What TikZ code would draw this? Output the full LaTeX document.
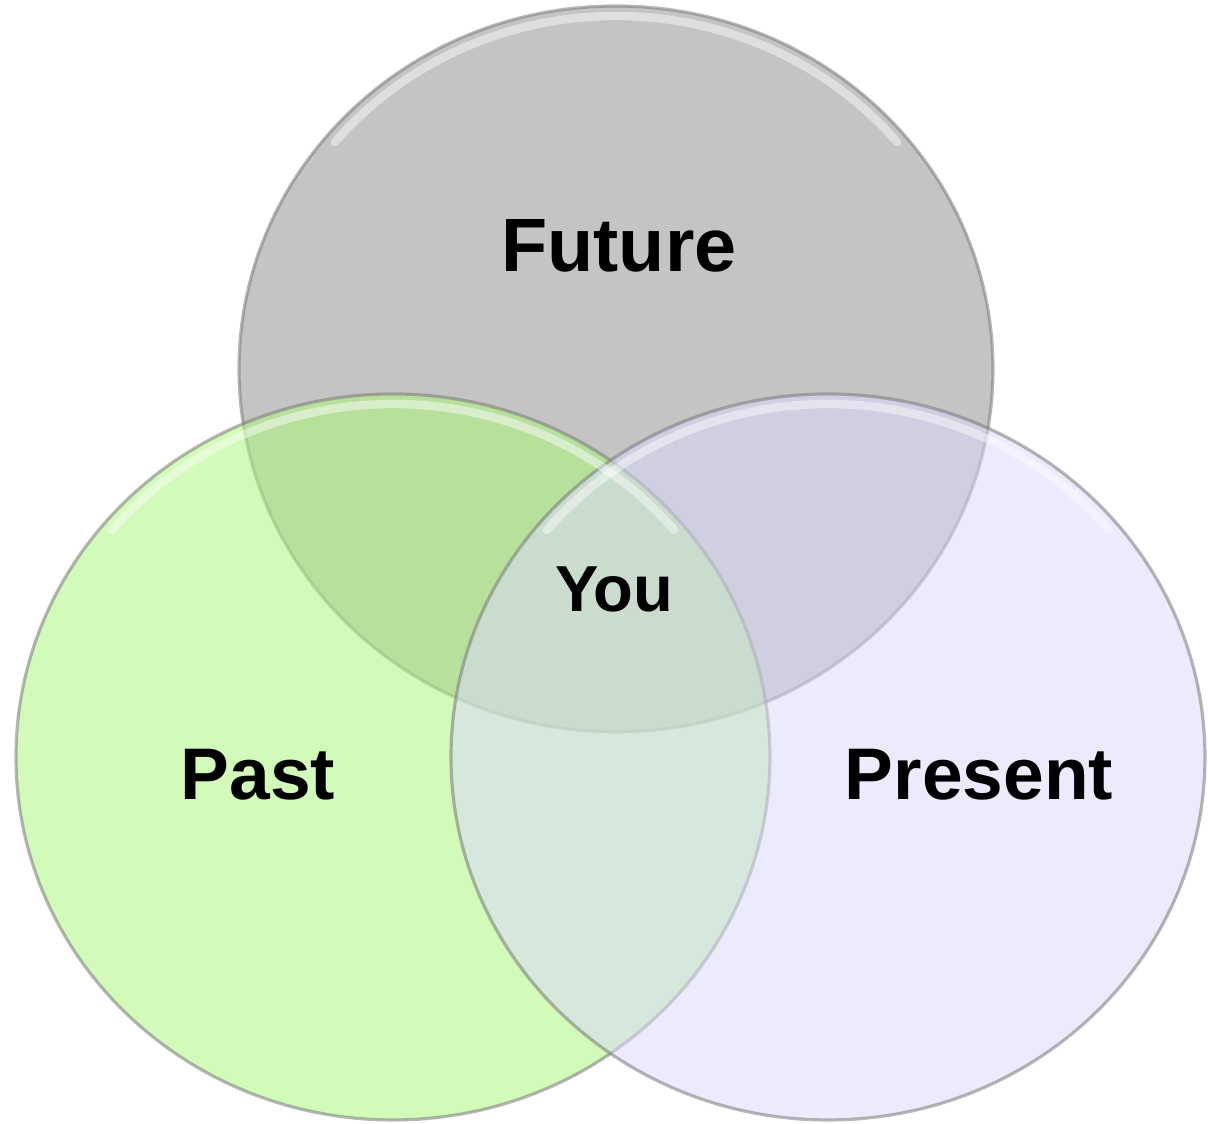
\documentclass[tikz,border=0pt]{standalone}
\usepackage{fontspec}
\setmainfont{Liberation Sans}
\usepackage{tikz}
\usetikzlibrary{positioning,shapes.geometric}
\usepackage{xcolor}
\definecolor{FutureGray}{HTML}{C4C4C4}
\definecolor{PastGreen}{HTML}{AFF680}
\definecolor{PresentLilac}{HTML}{D9D9FB}
\definecolor{RimGray}{HTML}{7A7A7A}

\begin{document}
\begin{tikzpicture}[
    circ/.style={ellipse,minimum width=7.54cm,minimum height=7.26cm,inner sep=0pt,
      draw=RimGray,draw opacity=0.55,line width=0.9pt},
    futurecirc/.style={circ,fill=FutureGray},
    pastcirc/.style={circ,fill=PastGreen,fill opacity=0.56},
    presentcirc/.style={circ,fill=PresentLilac,fill opacity=0.53},
    lbl/.style={anchor=base,font=\bfseries\fontsize{20.8}{24}\selectfont},
    hilite/.style={white,line width=2.4pt,opacity=0.45,line cap=round}
  ]
    \useasboundingbox (0,0) rectangle (12.08,11.24);
    \node[futurecirc] (future) at (6.16,7.55) {};
    \node[pastcirc] (past) at (3.93,3.67) {};
    \node[presentcirc] (present) at (8.28,3.67) {};
    \foreach \c in {future,past,present} {
      \draw[hilite] (\c.center) ++(140:3.67 and 3.53)
        arc[start angle=140,end angle=40,x radius=3.67,y radius=3.53];
    }
    \node[lbl,font=\bfseries\fontsize{21.5}{25}\selectfont] (futurelbl) at (6.19,8.52) {Future};
    \node[lbl] (pastlbl) at (2.58,3.24) {Past};
    \node[lbl] (presentlbl) at (9.79,3.24) {Present};
    \node[lbl,font=\bfseries\fontsize{18.5}{22}\selectfont] (youlbl) at (6.14,5.12) {You};
  \end{tikzpicture}
\end{document}
